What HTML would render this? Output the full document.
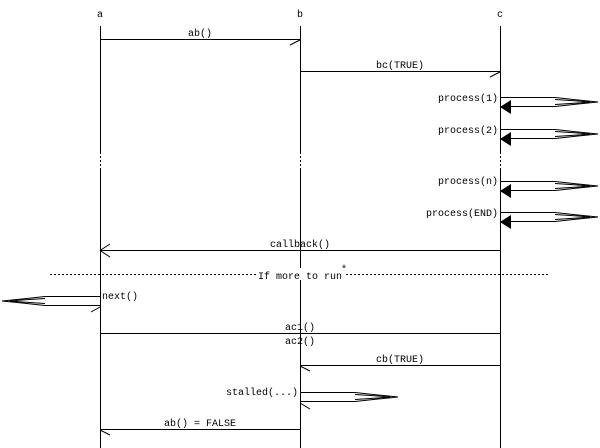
<!DOCTYPE html>
<html><head><style>
html,body{margin:0;padding:0;background:#fff;}
svg{display:block;}
text{font-family:"Liberation Mono",monospace;font-size:10px;fill:#000;}
</style></head><body>
<svg width="600" height="448" viewBox="0 0 600 448" xmlns="http://www.w3.org/2000/svg">
<g stroke="#000" stroke-width="1" fill="none">
<path d="M100.5,26V152M100.5,168V448M300.5,26V152M300.5,168V448M500.5,26V152M500.5,168V448"/>
<path d="M100.5,152V168M300.5,152V168M500.5,152V168" stroke-dasharray="2,2"/>
<path d="M100,39.5H300M300,40L290,45"/>
<path d="M300,71.5H500M500,72L490,77"/>
<path d="M500,97.5H555L578,100L598,102L578,104L555,106.5H500"/>
<path d="M555,99.5L578,101L590,102L578,103L555,104.5"/>
<path d="M500,129.5H555L578,132L598,134L578,136L555,138.5H500"/>
<path d="M555,131.5L578,133L590,134L578,135L555,136.5"/>
<path d="M500,181.5H555L578,184L598,186L578,188L555,190.5H500"/>
<path d="M555,183.5L578,185L590,186L578,187L555,188.5"/>
<path d="M500,212.5H555L578,215L598,217L578,219L555,221.5H500"/>
<path d="M555,214.5L578,216L590,217L578,218L555,219.5"/>
<path d="M500,250.5H100M100,250.5L110,244M100,250.5L110,257"/>
<path d="M50,274.5H550" stroke-dasharray="2,2"/>
<path d="M100,296.5H45L22,299L2,301L22,303L45,305.5H100"/>
<path d="M45,298.5L22,300L10,301L22,302L45,303.5"/>
<path d="M100,307L91,312"/>
<path d="M100,333.5H500"/>
<path d="M500,365.5H300M300,366L310,371"/>
<path d="M300,392.5H355L378,395L398,397L378,399L355,401.5H300"/>
<path d="M355,394.5L378,396L390,397L378,398L355,399.5"/>
<path d="M300,403L310,409"/>
<path d="M300,429.5H100M100,430L110,435"/>
</g>
<g fill="#000">
<path d="M500,107L511,100V114Z"/>
<path d="M500,139L511,132V146Z"/>
<path d="M500,191L511,184V198Z"/>
<path d="M500,222L511,215V229Z"/>
</g>
<rect x="257" y="268" width="87" height="12" fill="#fff"/>
<text x="100" y="17" text-anchor="middle">a</text>
<text x="300" y="17" text-anchor="middle">b</text>
<text x="500" y="17" text-anchor="middle">c</text>
<text x="200" y="36" text-anchor="middle">ab()</text>
<text x="400" y="68" text-anchor="middle">bc(TRUE)</text>
<text x="498" y="101" text-anchor="end">process(1)</text>
<text x="498" y="133" text-anchor="end">process(2)</text>
<text x="498" y="184" text-anchor="end">process(n)</text>
<text x="498" y="216" text-anchor="end">process(END)</text>
<text x="300" y="247" text-anchor="middle">callback()</text>
<text x="300" y="279" text-anchor="middle">If more to run</text>
<text x="341" y="272">*</text>
<text x="102" y="299">next()</text>
<text x="300" y="330" text-anchor="middle">ac1()</text>
<text x="300" y="344" text-anchor="middle">ac2()</text>
<text x="400" y="362" text-anchor="middle">cb(TRUE)</text>
<text x="298" y="395" text-anchor="end">stalled(...)</text>
<text x="200" y="426" text-anchor="middle">ab() = FALSE</text>
</svg>
</body></html>
